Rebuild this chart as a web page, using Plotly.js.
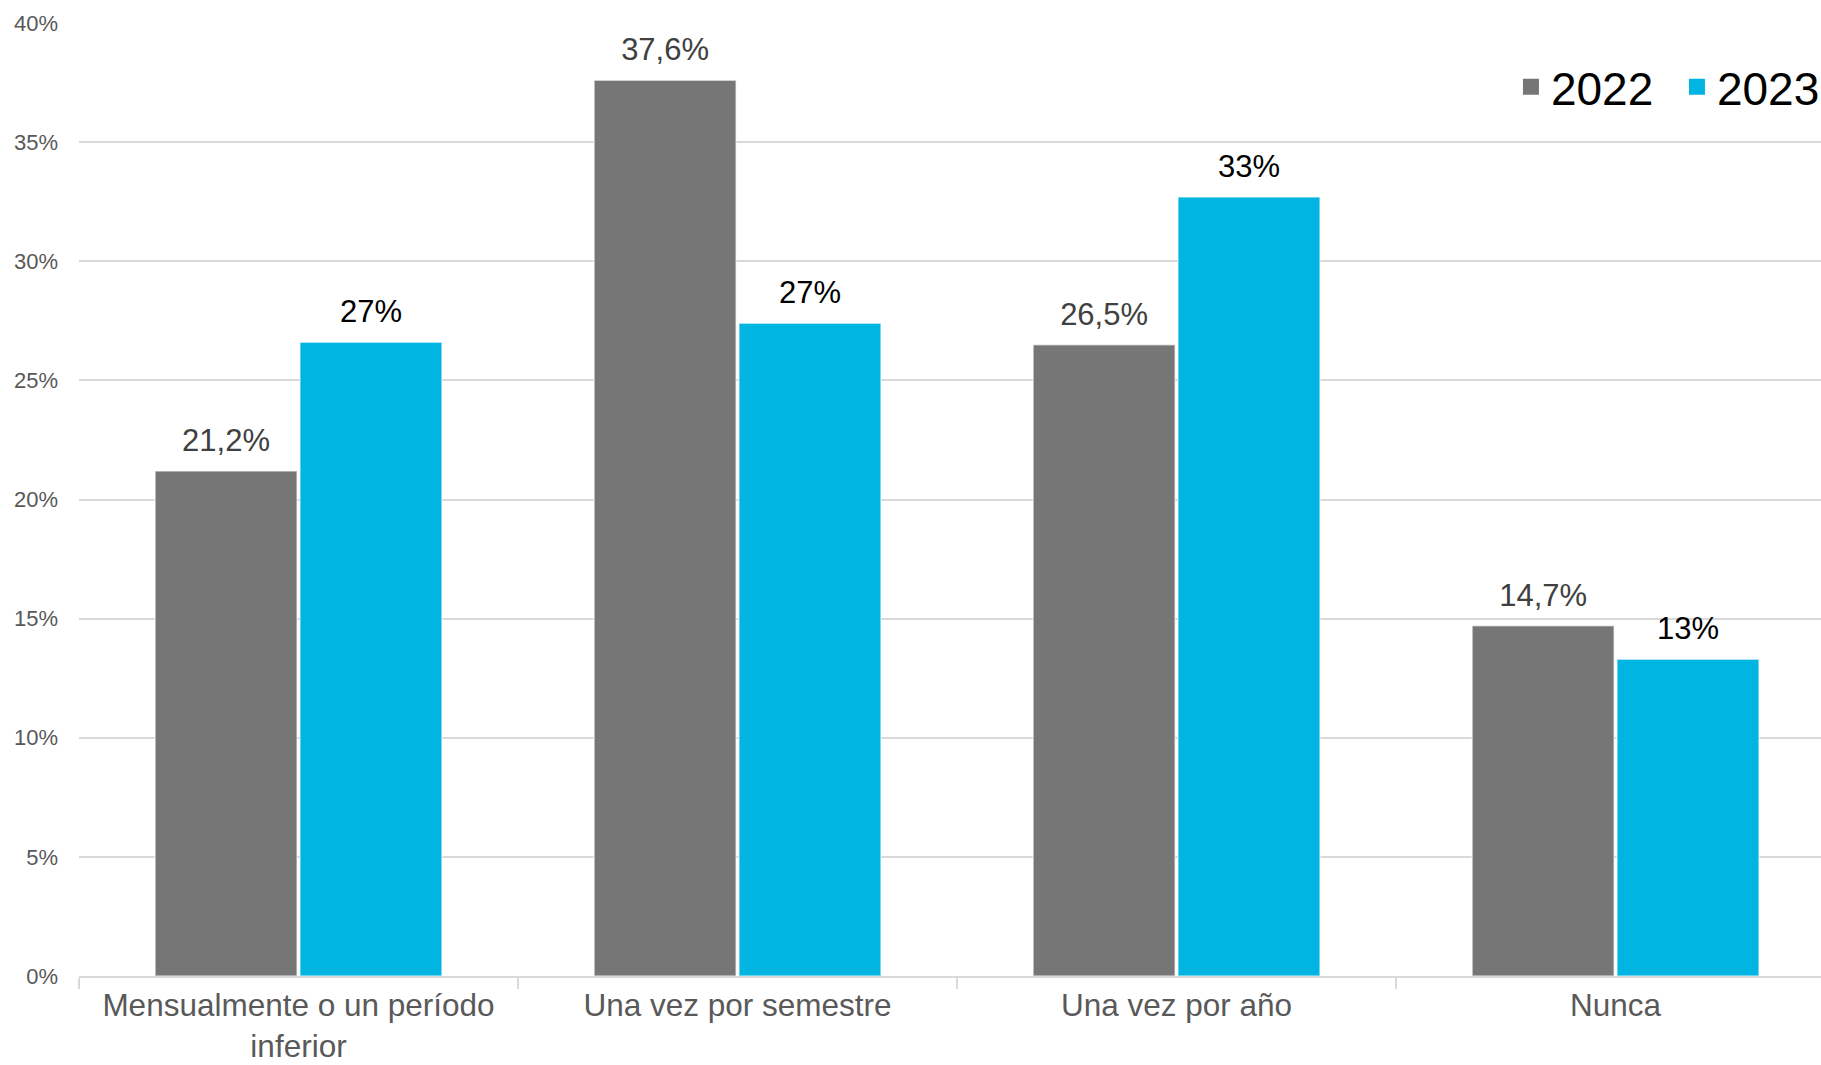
<!DOCTYPE html>
<html>
<head>
<meta charset="utf-8">
<script src="https://cdn.plot.ly/plotly-3.0.1.min.js"></script>
<style>html,body{margin:0;padding:0;background:#fff;}#chart{width:1821px;height:1065px;}</style>
</head>
<body>
<div id="chart"></div>
<script>
const categories = ["Mensualmente o un período<br>inferior", "Una vez por semestre", "Una vez por año", "Nunca"];
const values2022 = [21.2, 37.6, 26.5, 14.7];
const values2023 = [26.6, 27.4, 32.7, 13.3];
const labels2022 = ["21,2%", "37,6%", "26,5%", "14,7%"];
const labels2023 = ["27%", "27%", "33%", "13%"];
const yTickVals = [0, 5, 10, 15, 20, 25, 30, 35, 40];
const yTickText = ["0%", "5%", "10%", "15%", "20%", "25%", "30%", "35%", "40%"];

const FONT = '"Liberation Sans", Arial, sans-serif';
const GRAY = '#767676';
const BLUE = '#00b5e2';

const traces = [
  {type: 'bar', name: '2022', x: categories, y: values2022, offsetgroup: 'a',
   marker: {color: GRAY, line: {color: 'rgba(255,255,255,0.55)', width: 1.5}},
   showlegend: false, hoverinfo: 'skip'},
  {type: 'bar', name: '2023', x: categories, y: values2023, offsetgroup: 'b',
   marker: {color: BLUE, line: {color: 'rgba(255,255,255,0.55)', width: 1.5}},
   showlegend: false, hoverinfo: 'skip'},
  {type: 'scatter', mode: 'markers+text', x: categories, y: values2022, offsetgroup: 'a',
   text: labels2022, textposition: 'top center', cliponaxis: false,
   textfont: {family: FONT, size: 31, color: '#404040'},
   marker: {size: 18, opacity: 0, color: GRAY}, showlegend: false, hoverinfo: 'skip'},
  {type: 'scatter', mode: 'markers+text', x: categories, y: values2023, offsetgroup: 'b',
   text: labels2023, textposition: 'top center', cliponaxis: false,
   textfont: {family: FONT, size: 31, color: '#000000'},
   marker: {size: 18, opacity: 0, color: BLUE}, showlegend: false, hoverinfo: 'skip'},
  {type: 'scatter', mode: 'markers', name: '2022', x: [null], y: [null], offsetgroup: 'a',
   marker: {symbol: 'square', size: 16, color: GRAY}, showlegend: true},
  {type: 'scatter', mode: 'markers', name: '2023', x: [null], y: [null], offsetgroup: 'b',
   marker: {symbol: 'square', size: 16, color: BLUE}, showlegend: true}
];

const layout = {
  width: 1821, height: 1065,
  margin: {l: 79, r: 0, t: 23, b: 89, autoexpand: false},
  paper_bgcolor: '#ffffff', plot_bgcolor: '#ffffff',
  font: {family: FONT, color: '#595959'},
  barmode: 'group', bargap: 0.34, bargroupgap: 0.02,
  scattermode: 'group',
  showlegend: true,
  legend: {orientation: 'h', x: 1.0126, xanchor: 'right', y: 0.933, yanchor: 'middle',
           font: {family: FONT, size: 46, color: '#000000'}, itemwidth: 30,
           entrywidth: 121, entrywidthmode: 'pixels',
           bgcolor: 'rgba(0,0,0,0)', traceorder: 'normal'},
  xaxis: {
    type: 'category', range: [-0.5, 3.468], fixedrange: true, automargin: false,
    tickson: 'boundaries', ticks: 'outside', ticklen: 11, tickwidth: 2, tickcolor: '#d9d9d9',
    showline: true, linecolor: '#d9d9d9', linewidth: 2, showgrid: false,
    ticklabelstandoff: 0,
    tickfont: {family: FONT, size: 31.5, color: '#595959'}
  },
  yaxis: {
    range: [0, 40], fixedrange: true, automargin: false, tickvals: yTickVals, ticktext: yTickText,
    showgrid: true, gridcolor: '#d9d9d9', gridwidth: 2, zeroline: false,
    ticks: '', ticklabelstandoff: 20,
    tickfont: {family: FONT, size: 22, color: '#595959'}
  }
};

Plotly.newPlot('chart', traces, layout, {displayModeBar: false, staticPlot: true});
</script>
</body>
</html>
